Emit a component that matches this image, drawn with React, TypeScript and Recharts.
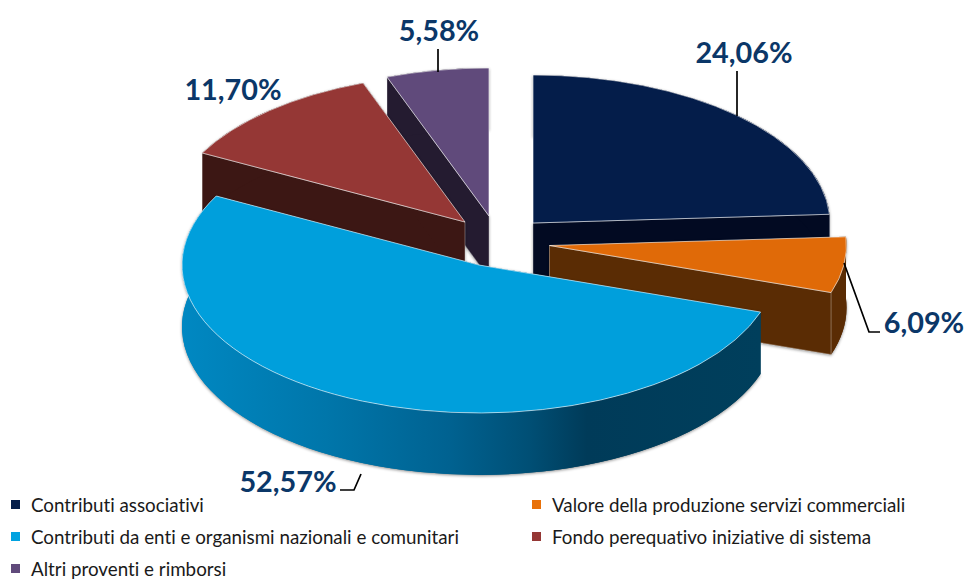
import { Legend, Pie, PieChart } from 'recharts'

const categories = [
  'Contributi associativi',
  'Valore della produzione servizi commerciali',
  'Contributi da enti e organismi nazionali e comunitari',
  'Fondo perequativo iniziative di sistema',
  'Altri proventi e rimborsi',
]
const shares = [24.06, 6.09, 52.57, 11.7, 5.58]
const topColors = ['#041d4a', '#e06a08', '#009fdc', '#953735', '#604a7b']
const sideColors = ['#020a22', '#5a2c04', 'url(#blueSide)', '#3c1714', '#241b30']
const legendColors = ['#041d4a', '#e8710a', '#00a2e0', '#953735', '#604a7b']

// x/y shift of each exploded slice from the pie centre
const explode = [
  [33, -12],
  [49.5, 10.5],
  [-21, 30],
  [-35, -13],
  [-11, -19],
]
// text centre and leader line of each label
const labelSpots = [
  { x: 744, y: 52, line: '737,71 737,116' },
  { x: 924, y: 322, line: '844,263 869,332 880,332' },
  { x: 288, y: 481, line: '340,490 354,490 361,474' },
  { x: 233, y: 89, line: '' },
  { x: 439, y: 30, line: '438,49 438,72' },
]

const W = 966
const H = 579
const CX = 500
const CY = 235
const RX = 297
const RY = 148
const DEPTH = 62

const rows = categories.map((name, i) => ({ name, value: shares[i], idx: i }))
// paint order starts at the last slice so it sits behind the others
const paintRows = [rows[4], rows[0], rows[1], rows[2], rows[3]]
const startAngle = 90 + (shares[4] / 100) * 360

const point = (cx: number, cy: number, deg: number) => {
  const a = (deg * Math.PI) / 180
  return [cx + RX * Math.cos(a), cy - RY * Math.sin(a)]
}

function Slice(props: any) {
  const idx = props.payload?.idx ?? props.idx
  const [dx, dy] = explode[idx]
  const cx = props.cx + dx
  const cy = props.cy + dy
  const [sx, sy] = point(cx, cy, props.startAngle)
  const [ex, ey] = point(cx, cy, props.endAngle)
  const large = Math.abs(props.startAngle - props.endAngle) > 180 ? 1 : 0
  const top = `M${cx},${cy} L${sx},${sy} A${RX},${RY} 0 ${large} 1 ${ex},${ey} Z`
  const wallA = `M${cx},${cy} L${sx},${sy} L${sx},${sy + DEPTH} L${cx},${cy + DEPTH} Z`
  const wallB = `M${cx},${cy} L${ex},${ey} L${ex},${ey + DEPTH} L${cx},${cy + DEPTH} Z`
  const rim = `M${sx},${sy} A${RX},${RY} 0 ${large} 1 ${ex},${ey} L${ex},${ey + DEPTH} A${RX},${RY} 0 ${large} 0 ${sx},${sy + DEPTH} Z`
  const side = sideColors[idx]
  const frontWall = ey > sy ? wallB : wallA
  return (
    <g>
      <g style={{ filter: 'drop-shadow(0px 1px 1.5px rgba(0,0,0,0.45))' }}>
        <path d={`${wallA} ${wallB} ${rim}`} fill={side} fillRule="nonzero" />
      </g>
      <path d={wallA} fill={side} />
      <path d={wallB} fill={side} />
      <path d={rim} fill={side} />
      {idx !== 2 && <path d={frontWall} fill="none" stroke="#ffffff" strokeOpacity={0.4} strokeWidth={0.8} />}
      <path d={top} fill={topColors[idx]} stroke="#ffffff" strokeOpacity={0.6} strokeWidth={1} strokeLinejoin="round" />
    </g>
  )
}

const backSlice = (props: any) => ((props.payload?.idx ?? props.idx) === 2 ? <g /> : <Slice {...props} />)
const frontSlice = (props: any) => ((props.payload?.idx ?? props.idx) === 2 ? <Slice {...props} /> : <g />)

function SliceLabel(props: any) {
  const idx = props.payload?.idx ?? props.idx
  const spot = labelSpots[idx]
  return (
    <g>
      {spot.line && <polyline points={spot.line} fill="none" stroke="#000000" strokeWidth={1.7} />}
      <text
        x={spot.x}
        y={spot.y}
        textAnchor="middle"
        dominantBaseline="central"
        fontFamily="Lato"
        fontWeight={700}
        fontSize={28.8}
        fill="#0b3768"
      >
        {`${shares[idx].toFixed(2).replace('.', ',')}%`}
      </text>
    </g>
  )
}

function LegendRows() {
  return (
    <div
      style={{
        position: 'relative',
        width: W,
        height: H,
        fontFamily: 'Lato',
        fontSize: 18.8,
        fontVariantLigatures: 'none',
        color: '#1a1a1a',
      }}
    >
      {categories.map((name, i) => (
        <div key={name}>
          <div
            style={{
              position: 'absolute',
              left: i % 2 ? 532 : 11,
              top: 500 + Math.floor(i / 2) * 32,
              width: 9,
              height: 9,
              background: legendColors[i],
            }}
          />
          <div
            style={{
              position: 'absolute',
              left: i % 2 ? 552 : 31,
              top: 495 + Math.floor(i / 2) * 32,
              lineHeight: '20px',
              whiteSpace: 'nowrap',
            }}
          >
            {name}
          </div>
        </div>
      ))}
    </div>
  )
}

export default function App() {
  return (
    <div style={{ position: 'absolute', left: 0, top: 0, width: W, height: H, overflow: 'hidden', background: '#ffffff' }}>
      <PieChart width={W} height={H} margin={{ top: 0, right: 0, bottom: 0, left: 0 }}>
        <defs>
          <linearGradient id="blueSide" x1="0" y1="0" x2="1" y2="0">
            <stop offset="0%" stopColor="#0088c2" />
            <stop offset="25%" stopColor="#0076aa" />
            <stop offset="46%" stopColor="#006291" />
            <stop offset="60%" stopColor="#004f75" />
            <stop offset="70%" stopColor="#003b59" />
            <stop offset="100%" stopColor="#003f5c" />
          </linearGradient>
        </defs>
        <Pie
          data={paintRows}
          dataKey="value"
          nameKey="name"
          cx={CX}
          cy={CY}
          outerRadius={RX}
          startAngle={startAngle}
          endAngle={startAngle - 360}
          shape={backSlice}
          label={false}
          labelLine={false}
          isAnimationActive={false}
        />
        <Pie
          data={paintRows}
          dataKey="value"
          nameKey="name"
          cx={CX}
          cy={CY}
          outerRadius={RX}
          startAngle={startAngle}
          endAngle={startAngle - 360}
          shape={frontSlice}
          label={SliceLabel}
          labelLine={false}
          isAnimationActive={false}
        />
        <Legend
          content={LegendRows}
          wrapperStyle={{ position: 'absolute', left: 0, top: 0, bottom: 'auto', width: W, height: H, pointerEvents: 'none' }}
        />
      </PieChart>
    </div>
  )
}
